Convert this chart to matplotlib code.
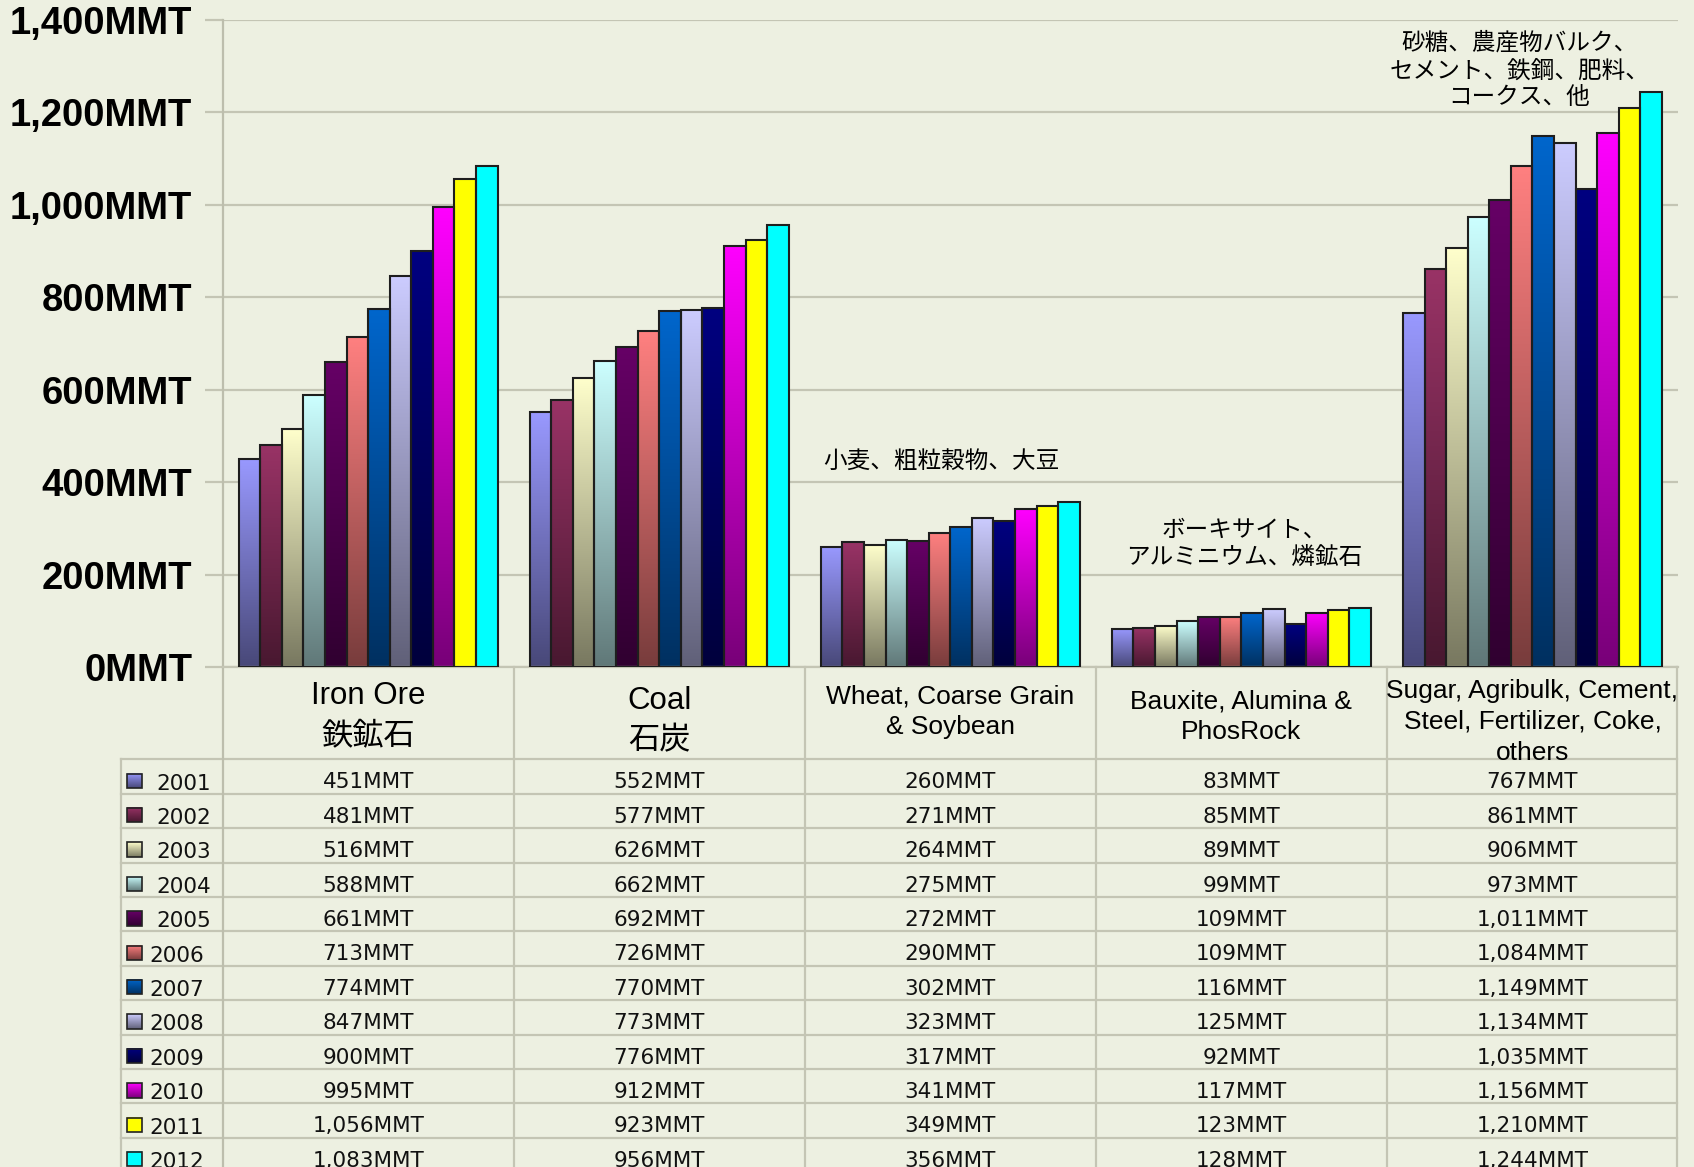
import numpy as np
import matplotlib.pyplot as plt
from matplotlib.colors import to_rgb, LinearSegmentedColormap
from matplotlib.patches import Rectangle

# ---------------------------------------------------------------
# Data: seaborne dry bulk trade by commodity, 2001-2012 (MMT)
# ---------------------------------------------------------------
categories = ["Iron Ore\n鉄鉱石", "Coal\n石炭", "Wheat, Coarse Grain\n& Soybean",
              "Bauxite, Alumina &\nPhosRock",
              "Sugar, Agribulk, Cement,\nSteel, Fertilizer, Coke,\nothers"]
notes_jp = ["", "", "小麦、粗粒穀物、大豆", "ボーキサイト、\nアルミニウム、燐鉱石",
            "砂糖、農産物バルク、\nセメント、鉄鋼、肥料、\nコークス、他"]
years = [2001, 2002, 2003, 2004, 2005, 2006, 2007, 2008, 2009, 2010, 2011, 2012]

iron_ore = [451, 481, 516, 588, 661, 713, 774, 847, 900, 995, 1056, 1083]
coal = [552, 577, 626, 662, 692, 726, 770, 773, 776, 912, 923, 956]
grain = [260, 271, 264, 275, 272, 290, 302, 323, 317, 341, 349, 356]
bauxite = [83, 85, 89, 99, 109, 109, 116, 125, 92, 117, 123, 128]
others = [767, 861, 906, 973, 1011, 1084, 1149, 1134, 1035, 1156, 1210, 1244]

yticks = [0, 200, 400, 600, 800, 1000, 1200, 1400]

# ---------------------------------------------------------------
# Styling
# ---------------------------------------------------------------
BG = "#EDF0E1"
GRID = "#C4C5B4"
colors = ["#9999FF", "#993366", "#FFFFCC", "#CCFFFF", "#660066", "#FF8080",
          "#0066CC", "#CCCCFF", "#000080", "#FF00FF", "#FFFF00", "#00FFFF"]
flat = {"#FFFF00", "#00FFFF"}   # these two have no shading
JP = ["Liberation Sans", "Noto Sans CJK JP"]

def shade_cmap(c):
    top = np.array(to_rgb(c))
    bottom = top if c in flat else top * 0.47
    return LinearSegmentedColormap.from_list(c, [bottom, top])

grad = np.linspace(0, 1, 256).reshape(-1, 1)

W, H = 1694, 1167
fig = plt.figure(figsize=(W / 100, H / 100), dpi=100, facecolor=BG)

# pixel-space layer for the data table under the chart
tab = fig.add_axes([0, 0, 1, 1], zorder=0)
tab.axis("off")

left, right, top, base = 222.6, 1678, 20, 667
ax = fig.add_axes([left / W, 1 - base / H, (right - left) / W, (base - top) / H], zorder=1)
ax.patch.set_alpha(0)

# ---------------------------------------------------------------
# Bars with vertical shading
# ---------------------------------------------------------------
series = np.array([iron_ore, coal, grain, bauxite, others])
x = np.arange(len(categories))
group = 0.89
bw = group / len(years)
for i, col in enumerate(colors):
    cmap = shade_cmap(col)
    offs = -group / 2 + bw * (i + 0.5)
    bars = ax.bar(x + offs, series[:, i], width=bw, facecolor="none",
                  edgecolor="#1E1E1E", linewidth=1.5, zorder=3)
    for b in bars:
        x0, h = b.get_x(), b.get_height()
        ax.imshow(grad, extent=[x0, x0 + b.get_width(), 0, h], cmap=cmap,
                  origin="lower", aspect="auto", interpolation="bilinear", zorder=2)

ax.set_xlim(-0.5, 4.5)
ax.set_ylim(0, 1400)
ax.set_xticks([])
ax.set_yticks(yticks)
ax.set_yticklabels([f"{v:,}MMT" for v in yticks], fontsize=27.5, fontweight="bold",
                   family="Liberation Sans")
ax.tick_params(axis="y", length=13, width=1.6, color=GRID, pad=9)
ax.yaxis.grid(True, color=GRID, linewidth=1.6)
ax.set_axisbelow(True)
for s in ["top", "right"]:
    ax.spines[s].set_visible(False)
ax.spines["left"].set_color("#BDBEAD")
ax.spines["left"].set_linewidth(1.6)
ax.spines["bottom"].set_color(GRID)
ax.spines["bottom"].set_linewidth(1.6)

# Japanese notes above the smaller groups
note_pos = [None, None, (1.97, 444), (3.01, 265), (3.955, 1290)]
for note, pos in zip(notes_jp, note_pos):
    if note:
        ax.text(pos[0], pos[1], note, ha="center", va="center", fontsize=17,
                family=JP, linespacing=1.3, zorder=4)

# ---------------------------------------------------------------
# Data table
# ---------------------------------------------------------------
colw = (right - left) / len(categories)
head_bot = 759.3
rowh = 34.4
tab_left = 121

for k in range(len(years)):
    y = head_bot + k * rowh
    tab.plot([tab_left, right - 1], [y, y], color=GRID, lw=1.6)
tab.plot([tab_left, tab_left], [head_bot, H], color=GRID, lw=1.6)
tab.plot([left, left], [base, H], color="#BDBEAD", lw=1.6)
for j in range(1, len(categories) + 1):
    xx = left + j * colw - (1 if j == len(categories) else 0)
    tab.plot([xx, xx], [base, H], color=GRID, lw=1.6)

# category header cells
head_y = [716, 721, 712, 717, 722]
for j, lab in enumerate(categories):
    big = j < 2
    tab.text(left + (j + 0.5) * colw, head_y[j], lab, ha="center", va="center",
             fontsize=22.5 if big else 19, family=JP, linespacing=1.47 if big else 1.35)

# year rows
for k, (yr, col) in enumerate(zip(years, colors)):
    yc = head_bot + (k + 0.5) * rowh
    tab.imshow(grad, extent=[127.3, 142, yc + 11.5, yc - 3], cmap=shade_cmap(col),
               origin="lower", aspect="auto", interpolation="bilinear")
    tab.add_patch(Rectangle((127.3, yc - 3), 14.7, 14.5, facecolor="none",
                            edgecolor="#222222", lw=1.2))
    tx = 156.7 if yr <= 2005 else 149.3
    tab.text(tx, yc + 7, str(yr), ha="left", va="center", fontsize=15.5,
             family="DejaVu Sans", color="#111111")
    for j in range(len(categories)):
        tab.text(left + (j + 0.5) * colw, yc + 6, f"{series[j, k]:,}MMT", ha="center",
                 va="center", fontsize=15.5, family="DejaVu Sans", color="#111111")

tab.set_xlim(0, W)
tab.set_ylim(H, 0)

fig.savefig("out.png", dpi=100, facecolor=BG)
